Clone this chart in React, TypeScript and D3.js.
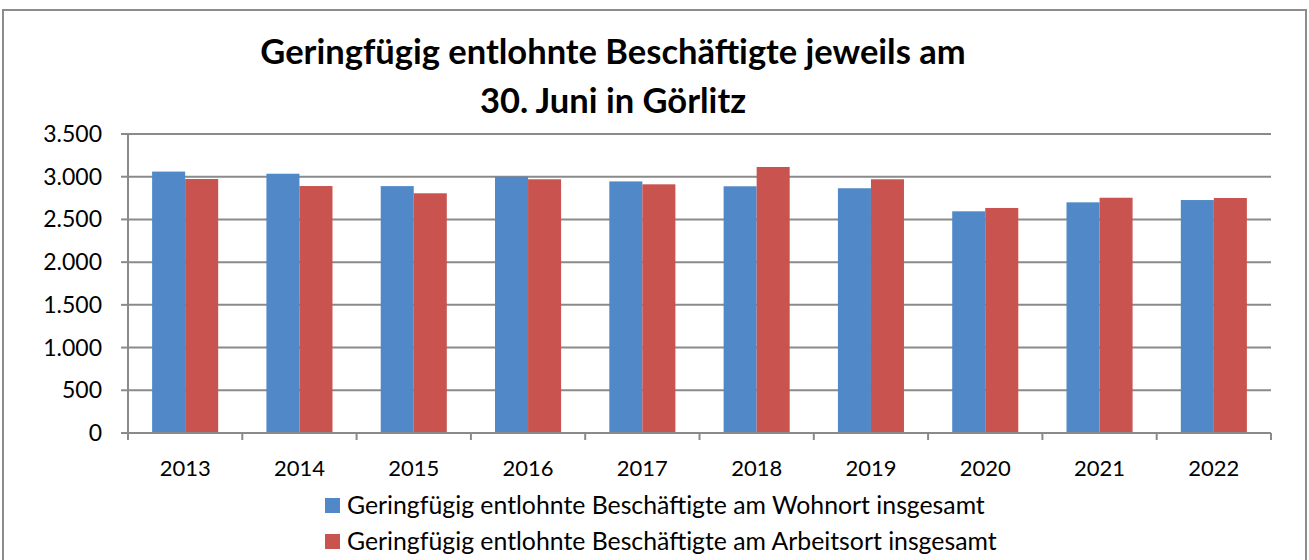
import React from "react";
import * as d3 from "d3";

const years = ["2013", "2014", "2015", "2016", "2017", "2018", "2019", "2020", "2021", "2022"];
const wohnort = [3060, 3035, 2890, 3000, 2945, 2888, 2865, 2595, 2700, 2727];
const arbeitsort = [2973, 2891, 2806, 2970, 2911, 3114, 2970, 2634, 2754, 2751];
const seriesNames = [
  "Geringfügig entlohnte Beschäftigte am Wohnort insgesamt",
  "Geringfügig entlohnte Beschäftigte am Arbeitsort insgesamt",
];
const yTicks = [0, 500, 1000, 1500, 2000, 2500, 3000, 3500];
const titleLines = ["Geringfügig entlohnte Beschäftigte jeweils am", "30. Juni in Görlitz"];

const colors = ["#5088C8", "#C9544F"];
const gridColor = "#8A8A8A";
const font = "Lato, 'Open Sans', sans-serif";

export default function App() {
  const W = 1309;
  const H = 560;
  const left = 128, right = 1271, top = 134, bottom = 433;

  const x = d3.scaleBand().domain(years).range([left, right]).paddingInner(0).paddingOuter(0);
  const xs = d3.scaleBand().domain(["w", "a"]).range([0, x.step()]).paddingInner(0).paddingOuter(0.73);
  const y = d3.scaleLinear().domain([0, 3500]).range([bottom, top]);
  const fmt = (v: number) => d3.format(",")(v).replace(/,/g, ".");
  const series = [wohnort, arbeitsort];

  return (
    <svg width={W} height={H} style={{ position: "absolute", left: 0, top: 0, background: "#fff" }}>
      <rect x={3} y={10} width={1303} height={600} fill="#fff" stroke="#8C8C8C" strokeWidth={2} />
      {titleLines.map((t, i) => (
        <text key={i} x={613} y={64 + i * 49} textAnchor="middle" fontFamily={font} fontWeight="bold" fontSize={34.5} fill="#000">
          {t}
        </text>
      ))}
      {yTicks.map((t) => (
        <g key={t}>
          {t > 0 && <line x1={left} x2={right} y1={y(t)} y2={y(t)} stroke={gridColor} strokeWidth={2} />}
          <line x1={left - 7} x2={left} y1={y(t)} y2={y(t)} stroke={gridColor} strokeWidth={2} />
          <text x={102} y={y(t)} dy="0.35em" textAnchor="end" fontFamily={font} fontSize={23} fill="#000">
            {fmt(t)}
          </text>
        </g>
      ))}
      {years.map((yr, i) =>
        series.map((s, k) => (
          <rect
            key={yr + k}
            x={(x(yr) as number) + (xs(k === 0 ? "w" : "a") as number)}
            y={y(s[i])}
            width={xs.bandwidth()}
            height={y(0) - y(s[i])}
            fill={colors[k]}
          />
        ))
      )}
      <line x1={left} x2={left} y1={top} y2={bottom} stroke={gridColor} strokeWidth={2} />
      <line x1={left} x2={right} y1={bottom} y2={bottom} stroke={gridColor} strokeWidth={2} />
      {[...years.map((yr) => x(yr) as number), right].map((px, i) => (
        <line key={i} x1={px} x2={px} y1={bottom} y2={bottom + 7} stroke={gridColor} strokeWidth={2} />
      ))}
      {years.map((yr) => (
        <text key={yr} x={(x(yr) as number) + x.bandwidth() / 2} y={476} textAnchor="middle" fontFamily={font} fontSize={22} fill="#000">
          {yr}
        </text>
      ))}
      {seriesNames.map((n, i) => (
        <g key={n}>
          <rect x={325} y={498 + i * 36} width={15} height={15} fill={colors[i]} />
          <text x={347} y={505 + i * 36} dy="0.35em" fontFamily={font} fontSize={24.8} fill="#000">
            {n}
          </text>
        </g>
      ))}
    </svg>
  );
}
